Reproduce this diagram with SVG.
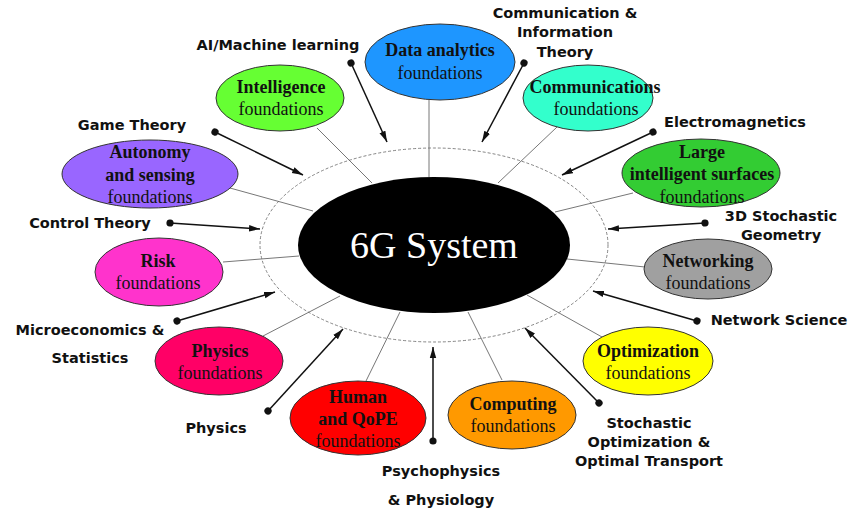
<svg xmlns="http://www.w3.org/2000/svg" width="852" height="510" viewBox="0 0 852 510">
<defs>
<style>
.lbl{font-family:"DejaVu Sans","Liberation Sans",sans-serif;font-weight:bold;font-size:14.5px;fill:#111;text-anchor:middle}
.t{font-family:"Liberation Serif","Times New Roman",serif;font-size:18px;fill:#111;text-anchor:middle}
.b{font-weight:bold}
.node ellipse{stroke:#333;stroke-width:1}
.spoke{stroke:#777;stroke-width:1;fill:none}
.arr{stroke:#111;stroke-width:1.5;fill:none;marker-start:url(#dot);marker-end:url(#head)}
</style>
<marker id="head" markerUnits="userSpaceOnUse" markerWidth="12" markerHeight="8" refX="11" refY="4" orient="auto">
<path d="M0,0.8 L11,4 L0,7.2 Z" fill="#111"/>
</marker>
<marker id="dot" markerUnits="userSpaceOnUse" markerWidth="9" markerHeight="9" refX="4.5" refY="4.5" orient="auto">
<circle cx="4.5" cy="4.5" r="3.6" fill="#111"/>
</marker>
</defs>
<rect width="852" height="510" fill="#fff"/>

<g id="connectors">
<line class="spoke" x1="429" y1="100" x2="429" y2="177"/>
<line class="spoke" x1="317" y1="128" x2="372" y2="183"/>
<line class="spoke" x1="557" y1="127" x2="498" y2="183"/>
<line class="spoke" x1="230" y1="188" x2="313" y2="211"/>
<line class="spoke" x1="223" y1="262" x2="299" y2="256"/>
<line class="spoke" x1="633" y1="193" x2="555" y2="212"/>
<line class="spoke" x1="645" y1="267" x2="567" y2="259"/>
<line class="spoke" x1="263" y1="336" x2="340" y2="296"/>
<line class="spoke" x1="366" y1="381" x2="400" y2="312"/>
<line class="spoke" x1="502" y1="380" x2="468" y2="312"/>
<line class="spoke" x1="602" y1="337" x2="527" y2="295"/>

<line class="arr" x1="351" y1="63" x2="387" y2="142"/>
<line class="arr" x1="524" y1="63" x2="482" y2="142"/>
<line class="arr" x1="215" y1="132" x2="303" y2="175"/>
<line class="arr" x1="170" y1="223" x2="260" y2="229"/>
<line class="arr" x1="177" y1="321" x2="275" y2="292"/>
<line class="arr" x1="268" y1="411" x2="343" y2="329"/>
<line class="arr" x1="433" y1="441" x2="433" y2="347"/>
<line class="arr" x1="599" y1="403" x2="525" y2="328"/>
<line class="arr" x1="697" y1="321" x2="593" y2="291"/>
<line class="arr" x1="705" y1="223" x2="608" y2="229"/>
<line class="arr" x1="653" y1="132" x2="562" y2="175"/>
</g>

<g id="ring">
<ellipse cx="434" cy="245" rx="174" ry="97" fill="none" stroke="#666" stroke-width="0.8" stroke-dasharray="3 2"/>
</g>

<g id="center">
<ellipse cx="434" cy="245" rx="136" ry="68" fill="#000"/>
<text x="434" y="258" font-family="Liberation Serif, Times New Roman, serif" font-size="38" fill="#fff" text-anchor="middle">6G System</text>
</g>

<g id="data-analytics" class="node">
<ellipse cx="440" cy="62" rx="75" ry="38" fill="#1e96ff"/>
<text class="t b" x="440" y="56">Data analytics</text>
<text class="t" x="440" y="79">foundations</text>
</g>
<g id="intelligence" class="node">
<ellipse cx="280" cy="98" rx="64" ry="33" fill="#66ff33"/>
<text class="t b" x="281" y="93">Intelligence</text>
<text class="t" x="281" y="115">foundations</text>
</g>
<g id="communications" class="node">
<ellipse cx="588" cy="98" rx="65" ry="33" fill="#33ffcc"/>
<text class="t b" x="595" y="93">Communications</text>
<text class="t" x="596" y="115">foundations</text>
</g>
<g id="autonomy" class="node">
<ellipse cx="150" cy="174" rx="88" ry="34" fill="#9966ff"/>
<text class="t b" x="150" y="158">Autonomy</text>
<text class="t b" x="150" y="181">and sensing</text>
<text class="t" x="150" y="203">foundations</text>
</g>
<g id="risk" class="node">
<ellipse cx="159" cy="272" rx="64" ry="34" fill="#ff33cc"/>
<text class="t b" x="158" y="267">Risk</text>
<text class="t" x="158" y="289">foundations</text>
</g>
<g id="lis" class="node">
<ellipse cx="701" cy="173" rx="79" ry="34" fill="#33cc33"/>
<text class="t b" x="702" y="158">Large</text>
<text class="t b" x="702" y="180">intelligent surfaces</text>
<text class="t" x="702" y="203">foundations</text>
</g>
<g id="networking" class="node">
<ellipse cx="708" cy="269" rx="64" ry="30" fill="#a0a0a0"/>
<text class="t b" x="708" y="267">Networking</text>
<text class="t" x="708" y="289">foundations</text>
</g>
<g id="physics" class="node">
<ellipse cx="219" cy="361" rx="64" ry="34" fill="#ff0066"/>
<text class="t b" x="220" y="357">Physics</text>
<text class="t" x="220" y="379">foundations</text>
</g>
<g id="human" class="node">
<ellipse cx="358" cy="418" rx="68" ry="37" fill="#ff0000"/>
<text class="t b" x="358" y="403">Human</text>
<text class="t b" x="358" y="425">and QoPE</text>
<text class="t" x="358" y="447">foundations</text>
</g>
<g id="computing" class="node">
<ellipse cx="512" cy="415" rx="64" ry="34" fill="#ff9900"/>
<text class="t b" x="513" y="410">Computing</text>
<text class="t" x="513" y="432">foundations</text>
</g>
<g id="optimization" class="node">
<ellipse cx="648" cy="361" rx="65" ry="34" fill="#ffff00"/>
<text class="t b" x="648" y="357">Optimization</text>
<text class="t" x="648" y="379">foundations</text>
</g>

<g id="labels">
<text class="lbl" x="278" y="50">AI/Machine learning</text>
<text class="lbl" x="565" y="18">Communication &amp;</text>
<text class="lbl" x="565" y="37">Information</text>
<text class="lbl" x="565" y="57">Theory</text>
<text class="lbl" x="132" y="130">Game Theory</text>
<text class="lbl" x="90" y="228">Control Theory</text>
<text class="lbl" x="735" y="127">Electromagnetics</text>
<text class="lbl" x="781" y="221">3D Stochastic</text>
<text class="lbl" x="781" y="240">Geometry</text>
<text class="lbl" x="779" y="325">Network Science</text>
<text class="lbl" x="90" y="335">Microeconomics &amp;</text>
<text class="lbl" x="90" y="363">Statistics</text>
<text class="lbl" x="216" y="433">Physics</text>
<text class="lbl" x="441" y="476">Psychophysics</text>
<text class="lbl" x="441" y="505">&amp; Physiology</text>
<text class="lbl" x="649" y="428">Stochastic</text>
<text class="lbl" x="649" y="447">Optimization &amp;</text>
<text class="lbl" x="649" y="466">Optimal Transport</text>
</g>
</svg>
